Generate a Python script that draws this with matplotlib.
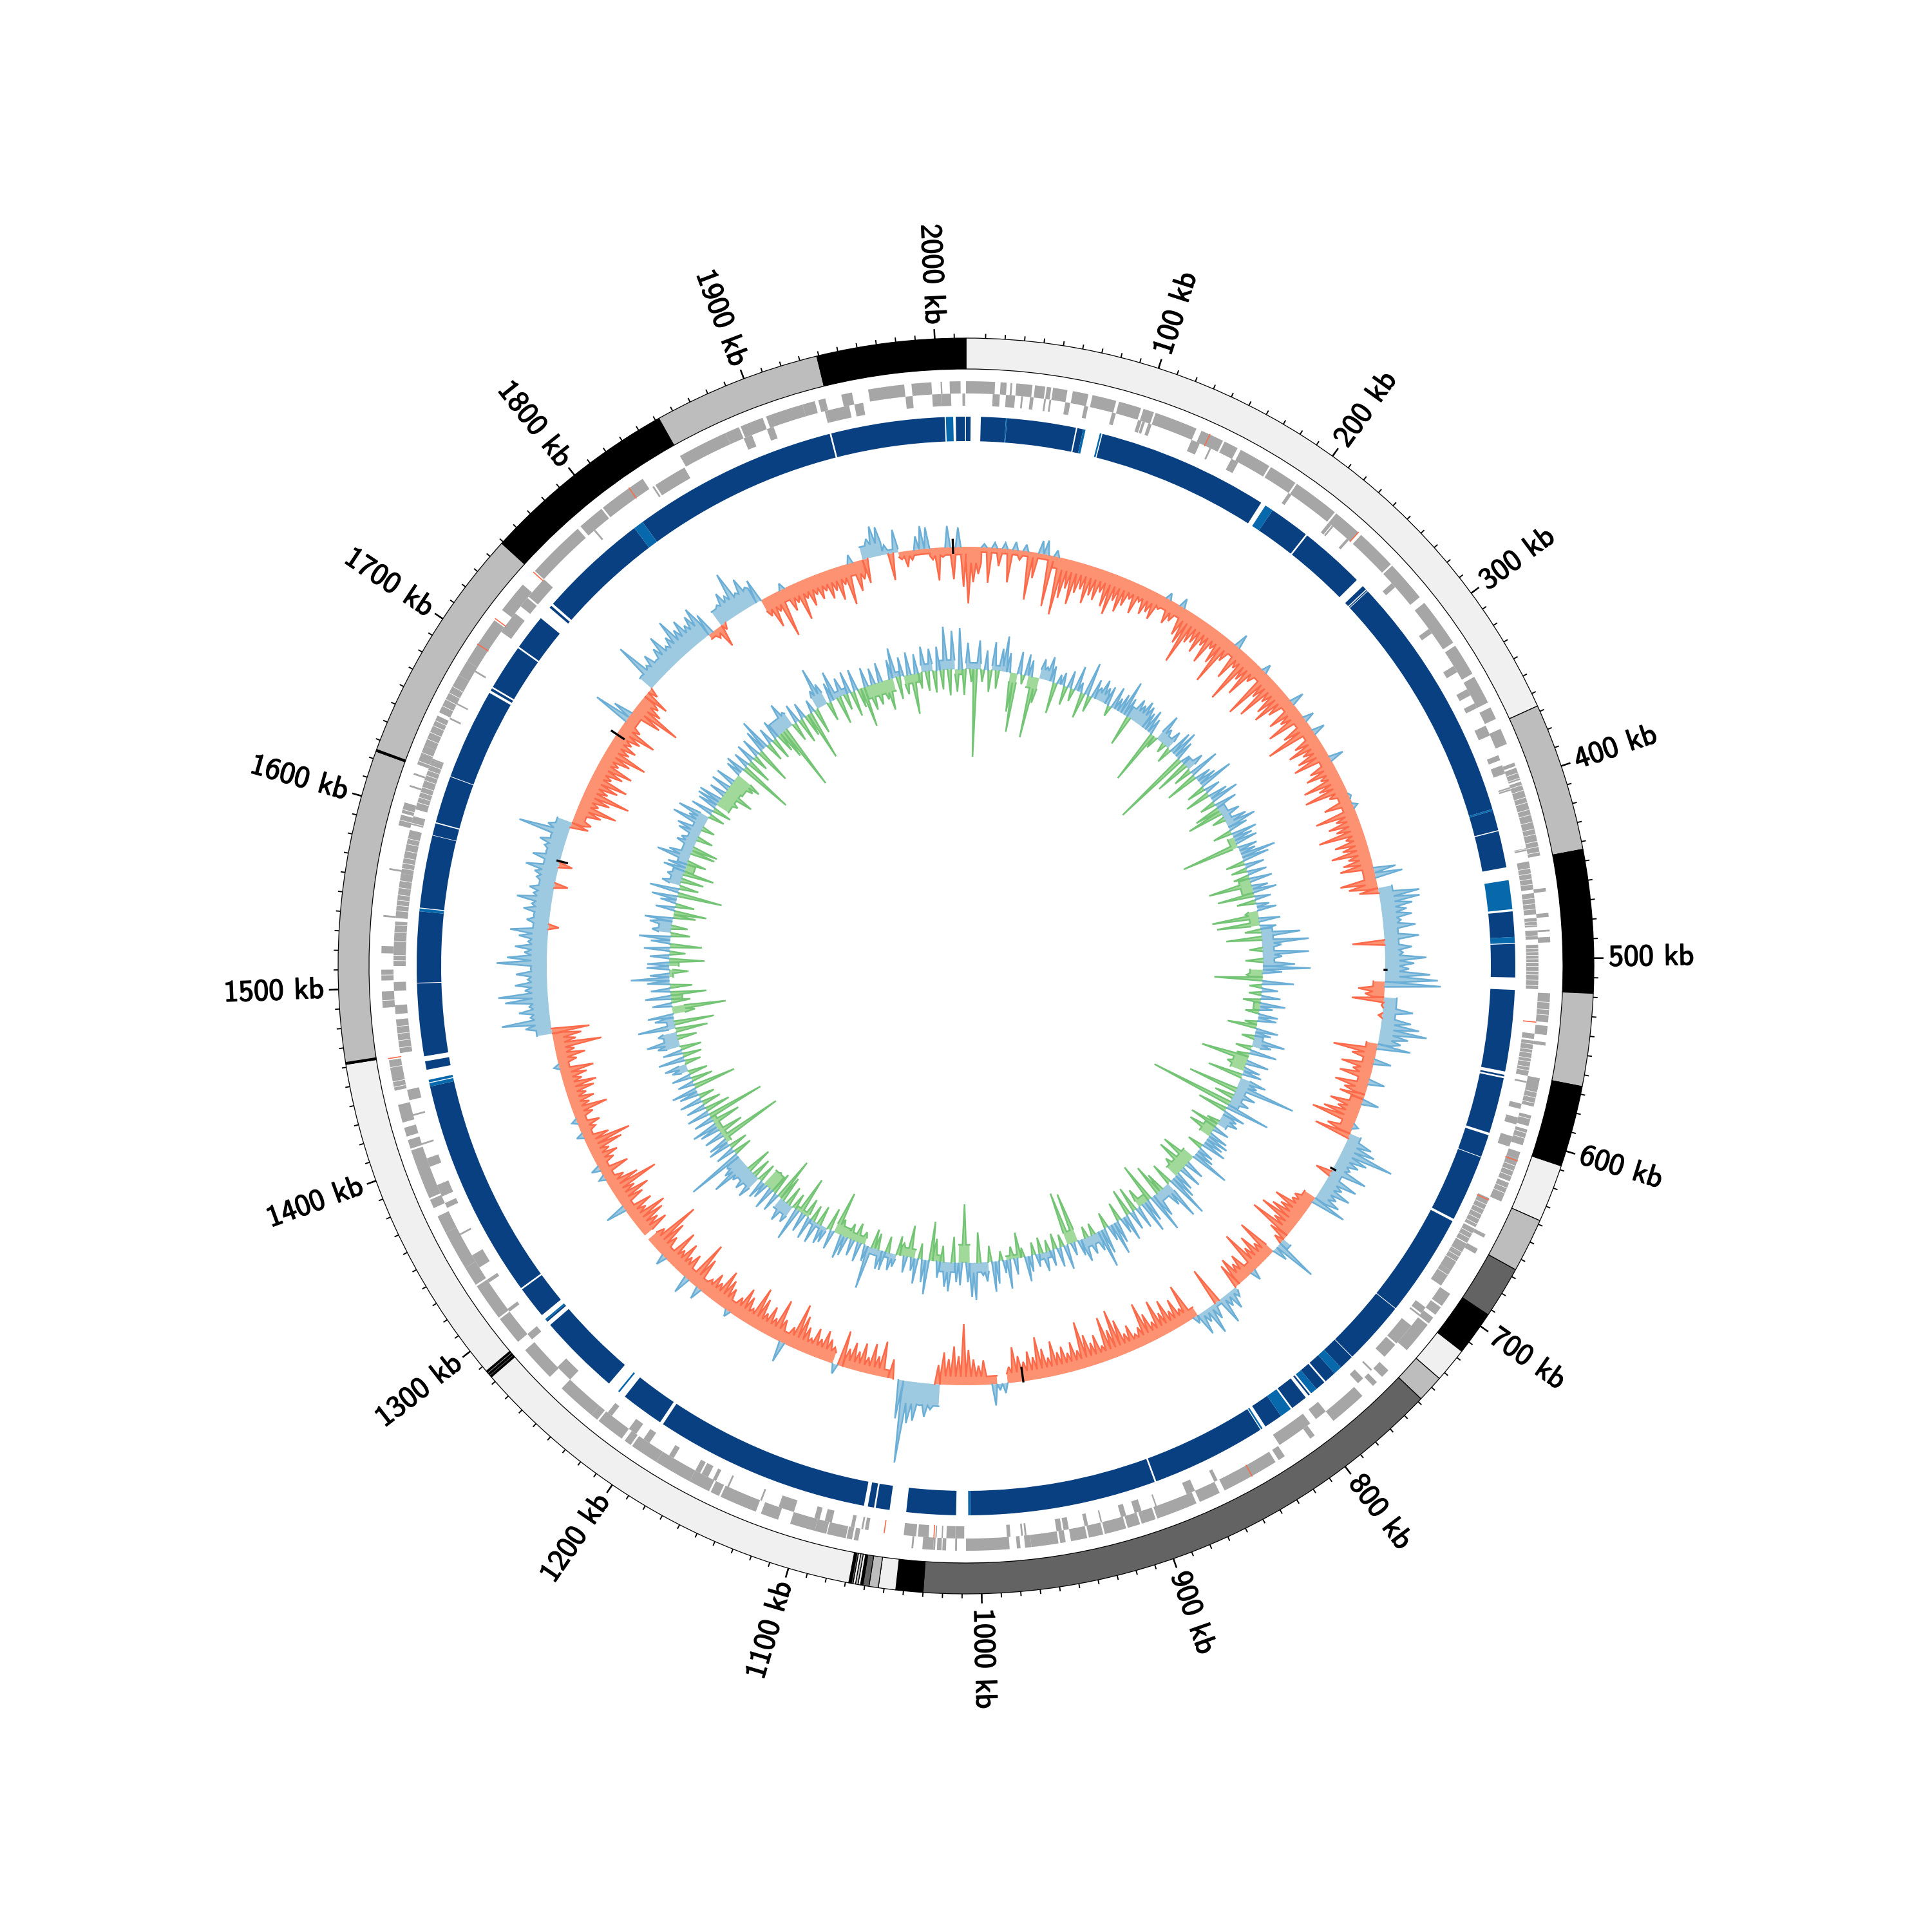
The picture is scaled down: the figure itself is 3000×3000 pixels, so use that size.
import matplotlib
matplotlib.use("Agg")
import matplotlib.patheffects as pe
import matplotlib.pyplot as plt
import numpy as np

genome_kb = 2016
bin_kb = 4

LIGHT = "#f0f0f0"
GREY = "#bdbdbd"
DARK = "#636363"
BLACK = "#000000"

# ideogram bands (kb)
band_edges = [0, 367, 444, 518, 566, 608, 638, 666, 693, 716, 734, 748, 1030, 1044, 1053, 1057.8,
              1061, 1062.2, 1063.5, 1064.8, 1066.1, 1067, 1068.3, 1283, 1283.8, 1284.6, 1285.4,
              1286.2, 1287, 1461.5, 1462.5, 1624, 1625, 1749, 1852, 1939, 2016]
band_colors = [LIGHT, GREY, BLACK, GREY, BLACK, LIGHT, GREY, DARK, BLACK, LIGHT, GREY, DARK, BLACK, LIGHT, GREY,
               DARK, BLACK, LIGHT, GREY, LIGHT, DARK, BLACK, LIGHT, BLACK, DARK, BLACK, "#969696",
               BLACK, LIGHT, BLACK, GREY, BLACK, GREY, BLACK, GREY, BLACK]

# contig ring: dark segments and lighter segments (kb)
dark_segments = [(0, 2.7), (8.7, 23.4), (24, 64.7), (65.5, 69), (80.6, 182), (190, 214), (215, 254), (259, 261.6),
                 (262.2, 262.8), (263.2, 411), (412, 423.8), (424.4, 446), (472, 487), (491, 510.7), (518, 566),
                 (568, 569), (570, 603), (604.5, 617.8), (618.2, 657.5), (659, 719.8), (720.2, 757.8),
                 (758.2, 767), (772, 779), (780, 786), (791, 792), (794, 804), (812, 823), (826.5, 894.5),
                 (895.5, 1005.5), (1013.8, 1043), (1052.8, 1061), (1062, 1065.7), (1068, 1195.5), (1197.5, 1223),
                 (1235, 1283.5), (1286, 1287), (1291, 1310), (1311, 1441), (1451, 1456), (1459, 1501.8),
                 (1502.2, 1544), (1546.2, 1589), (1589.3, 1596.3), (1597, 1624.8), (1625.2, 1679), (1680.5, 1682),
                 (1683, 1710), (1711, 1732), (1740, 1741.5), (1743, 1808), (1814, 1935.5), (1936.5, 2003.5),
                 (2010, 2015.5)]
light_segments = [(23.4, 24), (69, 70.4), (79, 80), (185, 190), (411, 412), (453.6, 470.7), (487, 490.5), (767, 772),
                  (786, 790), (805, 812), (825, 826), (1005.5, 1006.7), (1227, 1228), (1287, 1288), (1441, 1443),
                  (1443.5, 1445), (1544, 1545.7), (1808, 1814), (2004.2, 2008.5)]

# genes by strand (kb)
genes_outer = [(0, 16), (19, 22.4), (24.5, 25.5), (27.7, 36.6), (38, 43.7), (44.5, 47), (48, 56), (59, 67.7), (70, 83.4),
               (85, 97.6), (99, 105), (106, 130), (133, 146), (147, 155), (157, 175), (176, 192), (193, 219),
               (220, 236), (238, 261), (262, 285), (289, 316), (318, 336), (338, 354), (357, 364), (370, 379),
               (390, 392), (393, 400), (401, 443), (461, 463), (474.8, 477), (484, 485), (488, 491), (519, 535),
               (537, 542), (546, 548), (566, 572), (571.5, 582), (587, 593), (595, 604), (608, 612), (612, 625),
               (626, 637), (657, 659), (666, 669), (695, 703), (704, 709), (711, 715), (716, 734), (749, 754),
               (758, 761), (769, 790), (803, 806), (823, 827), (829, 861), (864, 876), (878, 901), (902, 910),
               (911, 918), (919, 931), (932, 940), (941, 950), (953, 956), (957, 972), (972, 975.5), (978, 980),
               (984, 1008), (1013, 1014), (1019, 1021), (1021.5, 1024), (1025, 1026), (1026, 1032), (1037, 1038),
               (1067.5, 1070), (1071, 1074), (1074.5, 1085), (1085.5, 1092), (1092, 1106), (1113, 1123),
               (1126, 1147), (1148, 1153), (1154, 1166), (1166, 1187), (1187, 1203), (1204, 1208), (1210, 1226),
               (1227, 1231), (1231, 1253), (1262, 1282), (1288, 1304), (1305, 1326), (1327, 1338), (1338, 1360),
               (1360, 1370), (1375, 1380), (1381, 1403), (1402, 1409), (1410, 1415), (1417, 1422), (1425, 1435),
               (1443, 1452), (1451, 1460), (1489, 1498), (1504, 1510), (1519, 1523), (1539, 1540), (1565, 1566),
               (1590, 1596), (1597, 1603), (1612, 1613), (1619, 1620), (1625, 1636), (1636, 1654), (1656, 1679),
               (1679, 1688), (1688, 1715), (1722, 1734), (1733, 1740), (1750, 1783), (1785, 1800), (1801, 1828),
               (1852, 1880), (1880, 1888), (1889, 1902), (1904, 1925), (1925, 1932), (1934, 1938), (1947, 1953),
               (1962, 1982), (1986, 1997), (2002, 2002.8), (2007, 2013)]
genes_inner = [(15, 19), (22.4, 27.6), (31, 32), (36, 38), (44, 45), (47, 48), (56, 58.8), (66.8, 69), (82.8, 85), (98, 100),
               (100.5, 102), (104, 106), (130, 135), (141, 142), (154.7, 159), (192, 194), (220, 222), (222.5, 223.5),
               (233.5, 235), (269, 272), (302, 305), (327, 331), (342, 346), (351, 354), (365, 371), (383, 386), (389, 394),
               (402, 404), (437.5, 439), (445, 461), (463, 475), (477, 482), (484, 489), (492, 517), (542, 545), (546, 566),
               (569, 570), (582, 585), (590, 594), (601, 607), (638, 656), (657, 666), (666.5, 673), (673, 684), (684, 694),
               (709, 713), (714, 715), (722, 735), (736, 745), (755, 756), (762, 766), (790, 797), (801, 822), (862, 864),
               (876, 881), (899, 899.8), (908, 912), (917, 920), (931, 931.8), (939, 941), (950, 953), (954, 957),
               (974, 975), (976, 977), (983, 985), (1009, 1014), (1014, 1019), (1021, 1021.7), (1024.5, 1025.2),
               (1029, 1035), (1036, 1043), (1063, 1065), (1066, 1067), (1071, 1073), (1084, 1088), (1091, 1094), (1106, 1115),
               (1125, 1126), (1145, 1146), (1153, 1155), (1158, 1162), (1163, 1166), (1180, 1183), (1196, 1200), (1205, 1210),
               (1222, 1225), (1253, 1263), (1284, 1288), (1304, 1306), (1324, 1326), (1334, 1342), (1355, 1356), (1372, 1375),
               (1379, 1386), (1397, 1402), (1410, 1411), (1427, 1428), (1436, 1442), (1463, 1482), (1485, 1490), (1498, 1503),
               (1512, 1537), (1539, 1564), (1564, 1589), (1592, 1597), (1601, 1630), (1630, 1631), (1655, 1656), (1664, 1665),
               (1685, 1686), (1712, 1718), (1717, 1725), (1730, 1736), (1737, 1750), (1789, 1790), (1830, 1831), (1832, 1851),
               (1888, 1893), (1902, 1906), (1936, 1937), (1937, 1950), (1953, 1958), (1982, 1986), (1997, 2002), (2002, 2007.6),
               (2014, 2015.5)]
gene_marks_kb = [138, 236, 535.5, 613, 639, 844, 1026, 1054, 1461, 1699, 1716, 1749, 1819]
gene_marks_outer = [True, True, False, True, False, True, False, False, True, True, True, True, True]
# white lines between neighbouring genes where they are easy to see
gene_gap_kb = [396, 399, 403, 406, 410, 413, 417, 420, 424, 428, 431, 435, 438, 441,
               449, 452, 455, 458, 466, 469, 472, 479, 481, 487, 494, 496, 498, 500, 502, 504, 507, 509, 512, 515,
               524, 528, 531, 548, 551, 553, 556, 558, 561, 563, 574, 577, 580, 589, 597, 600,
               616, 619, 622, 629, 632, 642, 645, 648, 651, 654, 660, 663, 672, 675, 678, 687,
               1445, 1448, 1456, 1466, 1470, 1474, 1478, 1493, 1507, 1515, 1518, 1526, 1531, 1535, 1543, 1546,
               1549, 1552, 1556, 1560, 1567, 1570, 1573, 1577, 1581, 1584, 1593, 1599, 1605, 1608, 1611, 1614,
               1618, 1621, 1624, 1627, 1632, 1640, 1644, 1648, 1651, 1660, 1664, 1668, 1672]

# outer signal, one value per 4 kb, 25 values per 100 kb
outer_signal = [
    -88, -55, -42, 5, -55, 8, -28, 9, -52, 12, -15, 10, -75, -40, 20, 22, -80, 10, -90, -62, -45, -68, -48, -40, -60,
    -45, -50, -35, -55, -65, -40, -55, -42, -28, -48, -25, -42, -35, -43, -22, 10, -38, -30, 14, -45, -55, -84, -45, -40, -52,
    -35, -60, -30, -50, -80, -35, 22, -55, -30, -85, -40, -62, -30, 13, -82, -40, -72, -35, -50, -61, -40, 21, -50, -35, -62,
    16, -45, -78, 19, -40, -55, -35, -48, -59, 22, -40, -50, -30, -62, -40, -67, -30, 3, -45, 7, -65, -35, -50, -40, -71,
    -30, -50, -40, -60, -35, -45, -52, 34, 43, -57, -45, -30, 63, 62, 49, 39, 46, 28, 50, 17, 54, -50, 42, 28, 64,
    45, 37, 70, 82, 87, -41, -30, -50, -3, 47, -6, 46, 60, 73, 45, 35, 52, -68, -37, 27, -50, -30, -49, 25, -52,
    -35, -40, 26, -50, -35, -55, -71, 8, -40, -57, 41, 50, 84, 45, 35, 25, 57, -25, 50, 30, 48, 30, 40, 55, -30,
    -30, -55, -40, -50, -64, -35, -70, -30, -15, 68, 23, -64, -30, -50, -35, -68, 16, -40, -30, -45, -39, 15, 30, 20, 44,
    -59, 25, 45, 20, 36, 12, -60, -25, -45, -30, -52, -35, -59, -28, -45, -66, -30, -22, -40, -30, -55, -74, -45, -68, -25,
    -45, -35, -50, -73, -30, -45, -30, -42, -35, -54, -30, -45, -65, -35, -45, -30, -40, -55, -25, 15, 10, 33, -12, -38, -30,
    -40, -55, -95, -45, -60, -40, -50, -30, 40, 52, 35, 60, 65, 128, 60, 0, -30, 0, -55, -30, -48, -25, -45, -30, -42,
    -30, -56, 15, -25, -35, -46, -30, -44, -25, -40, -55, -71, -30, 32, -35, -64, -30, -45, -30, -50, -64, -25, -40, -50, -30,
    10, -35, -45, -56, -30, -40, -25, 19, -50, -73, 27, -40, -30, -48, -30, -57, 16, -35, -55, -84, -30, 0, -45, -35, -50,
    -59, -30, -45, 32, -40, -55, -35, -78, -50, -30, 9, -46, 13, -30, -40, -30, -55, -72, -40, 10, -25, -35, 8, -30, -56,
    -30, -40, -30, -45, -51, -30, -40, -53, 8, -30, -45, -30, -74, -35, -45, -59, 40, 76, 30, 47, 30, 67, 77, 35, 50,
    30, 48, 25, 78, 62, 35, 50, 30, 45, 59, -16, 35, 25, 42, 30, 55, 30, 38, -21, 30, 35, 51, -21, 44, 25,
    30, 40, 25, 79, 35, -28, -30, -15, -40, -62, -30, -45, -74, -35, -48, -60, -30, -45, -57, -30, -45, -68, -35, -42, -30,
    -40, -61, -30, 58, 30, -50, -78, -40, -30, -40, -15, 25, 77, 30, 42, 25, 40, 55, 30, 40, 63, 40, 50, 35, 45,
    53, 35, -15, -35, -10, 30, 45, 35, 69, 30, 49, 30, 37, -30, -52, -30, -75, 10, -40, -30, -61, -30, -45, -30, -40,
    -30, -45, -35, -52, -30, -64, 13, -47, -30, -38, 30, 48, 45, 15, -42, 36, -12, -25, -15, 21, 36, 33, -18, -51, -15,
    33, -50, 30, -62,
]

# solid part under the spikes of the outer signal: (start kb, end kb, height)
outer_body = [(0, 12, -25), (12, 70, -8), (70, 445, -18), (445, 517, 22), (517, 530, -18), (530, 566, 20), (566, 606, -18),
              (610, 637, -20), (637, 693, 18), (693, 716, -20), (716, 730, -16), (733, 737, 14), (745, 782, -16),
              (785, 822, 6), (822, 975, -15), (983, 1029, -13), (1030, 1058, 34), (1069, 1105, -12), (1112, 1285, -18),
              (1287, 1462, -16), (1462, 1625, 24), (1625, 1738, -18), (1745, 1805, 24), (1805, 1815, -8), (1815, 1849, 26),
              (1851, 1938, -20), (1938, 1953, 20), (1953, 1965, 6), (1965, 1990, -8), (1990, 2016, -12)]

# inner signal, one value per 4 kb, 25 values per 100 kb
inner_signal = [
    41, -20, -136, 45, -19, 30, -34, 44, -28, 35, 55, 30, -61, -92, 35, -15, 33, 25, -96, -40, 31, 20, 38, 25, -49,
    15, 20, -30, 27, -20, 39, 15, -41, 52, -26, 30, 20, 35, 25, 30, -17, 35, 20, 30, 55, 30, -48, 36, 30, 40,
    35, 28, 36, 25, -86, -20, 45, 25, -15, 30, -25, 38, 44, 30, -123, 15, -54, 30, -30, 48, -52, 25, 30, 55, -30,
    25, -40, 30, 45, -25, 35, -40, -56, 30, -20, 35, 47, 30, -30, 40, 30, 35, -91, 30, 25, 55, 42, -30, 30, -25,
    30, -25, 35, -68, 25, 37, -58, 25, -30, 20, 30, -20, -73, 33, -67, 25, -25, 61, -55, 73, 30, -20, 72, 30, -27,
    50, 74, 30, -25, -75, 49, -20, 25, -20, 30, -28, 39, 20, -22, 30, 29, -20, -46, 35, 25, -20, 50, 30, -25, 42,
    -20, -75, 35, -30, 25, 30, -55, 42, 30, 94, -78, 35, -30, 30, -131, 70, -47, 35, 25, 30, -20, -45, 25, -41, 30,
    35, 30, 39, -25, 25, 30, 61, -20, -52, 30, -51, 35, -30, 30, 40, 68, -35, 62, 35, -30, -49, 40, 62, -63, 35,
    50, -30, 35, -40, 30, -43, 41, 25, -30, 35, 51, 25, -25, 40, 60, 30, -18, 30, -18, 37, 25, -79, 20, -84, 38,
    -20, 30, -25, 25, -18, 30, -25, 20, -20, 25, 39, -15, -40, 25, -20, 45, 20, -15, 35, 47, -25, 30, 20, -47, 58,
    53, 30, -91, 35, 30, -40, 45, 38, -25, 25, -35, -61, 53, 35, -25, 39, 20, -50, 25, -20, -30, 20, 27, -25, 30,
    30, -25, -30, 67, 25, -20, 30, -30, 25, -25, 30, 37, -25, -67, 30, -35, 25, 30, -30, 35, -25, 35, -30, 30, -60,
    52, -25, 30, -30, 35, -40, -68, 30, -35, 35, -30, 25, 30, -30, 40, -30, 35, -40, 30, 60, 35, 25, 89, -30, 30,
    -30, 35, 30, -99, 30, -40, 30, 40, -45, 30, -91, 35, -40, 30, -30, 35, -25, 30, 40, -67, 25, -34, 30, -30, 25,
    35, -25, 41, -30, 30, -33, 35, 51, -30, 30, -50, 59, -62, 30, 40, -35, -84, 30, -30, 40, -56, 30, -35, 35, 60,
    30, -30, 35, 34, -55, 30, -25, 40, -50, 30, 49, -30, 30, -25, 35, 44, -35, -51, 30, -30, 25, 40, -70, 46, -30,
    30, -35, 25, -48, 35, 30, -30, 52, 35, -38, -40, 30, 25, -25, 35, 40, -20, 54, 30, 51, -25, 35, -30, 30, 35,
    36, -30, 25, -48, 30, -25, 30, -35, -43, 25, 30, -86, 25, -40, 30, -25, 30, -57, 35, 50, -30, 25, -35, 30, -30,
    -45, -103, 44, 25, -30, 30, -40, 25, -35, -78, 20, -40, 30, 64, 35, -30, 30, 46, -43, 30, -25, 35, -40, 34, -30,
    -63, 30, -40, 25, -35, 30, -30, -48, 30, 47, -35, 30, -30, 35, -63, 30, -25, 40, -30, 35, -34, 37, -30, 67, -40,
    60, -35, 64, -40,
]

inner_body = [(0, 2, -14), (2, 16, 10), (30, 45, 8), (50, 58, -15), (70, 80, -18), (82, 93, 15), (143, 157, 12), (185, 205, 18),
              (225, 240, 15), (263, 272, 14), (325, 350, 12), (362, 372, -10), (410, 425, -18), (445, 460, -15), (465, 505, 18),
              (510, 518, -20), (545, 552, -10), (580, 592, 14), (605, 622, -22), (627, 660, 16), (672, 683, 15), (690, 700, -18),
              (730, 755, -20), (770, 790, 15), (795, 810, -12), (860, 880, 15), (885, 895, -20), (915, 930, 10), (950, 965, -6),
              (985, 1005, 15), (1006, 1018, -28), (1020, 1035, 15), (1035, 1045, -10), (1065, 1080, -14), (1085, 1095, 8),
              (1100, 1115, 10), (1120, 1140, -12), (1140, 1155, -15), (1165, 1185, 6), (1190, 1205, -6), (1210, 1225, 18),
              (1235, 1250, -28), (1255, 1290, 22), (1310, 1340, -8), (1395, 1405, 12), (1425, 1440, 22), (1445, 1455, 12),
              (1460, 1470, -20), (1475, 1480, -18), (1500, 1510, -6), (1512, 1518, -15), (1550, 1562, 20), (1600, 1615, 18),
              (1615, 1625, -14), (1625, 1680, 16), (1695, 1720, -22), (1720, 1735, -25), (1795, 1815, 22), (1848, 1862, 20),
              (1868, 1885, 10), (1905, 1935, -20), (1935, 1945, 8), (1948, 1965, -14), (1970, 1980, 12), (1990, 2003, 15),
              (2005, 2012, -8)]

# short black spikes on the outer signal
black_spike_kb = [507, 666, 964, 1593, 1700, 2006]
black_spike_inner = [-1, -3, -21, -11, -13, -9]
black_spike_outer = [2, 4, 0, 4, 9, 11]


def kb_to_theta(kb):
    return np.deg2rad(np.asarray(kb, dtype=float) * 360.0 / genome_kb)


def draw_arcs(ax, segments, bottom, top, color):
    starts = kb_to_theta([s[0] for s in segments])
    ends = kb_to_theta([s[1] for s in segments])
    ax.bar((starts + ends) / 2, top - bottom, width=ends - starts, bottom=bottom, color=color, linewidth=0)


def draw_signal(ax, values, body_regions, base, pos_fill, pos_line, neg_fill, neg_line, lw=0.6):
    values = np.asarray(values, dtype=float)
    left = np.arange(len(values)) * bin_kb
    mid = left + bin_kb / 2
    theta = kb_to_theta(np.column_stack([left, mid, left + bin_kb]).ravel())
    for sign, fill, line in ((-1, neg_fill, neg_line), (1, pos_fill, pos_line)):
        body = np.zeros(len(values))
        for start, end, height in body_regions:
            if height * sign > 0:
                body[(mid >= start) & (mid < end)] = abs(height)
        tip = np.maximum(np.clip(values * sign, 0, None), body)
        r = base + sign * np.column_stack([body, tip, body]).ravel()
        keep = np.repeat(tip > 0, 3)
        ax.fill_between(theta, base, r, where=keep, color=fill, linewidth=0, zorder=2)
        ax.plot(theta, np.where(keep, r, np.nan), color=line, lw=lw, zorder=3, solid_joinstyle="miter")


fig = plt.figure(figsize=(10, 10), dpi=300)
ax = fig.add_axes([1 / 6, 1 / 6, 2 / 3, 2 / 3], polar=True)
ax.set_theta_zero_location("N")
ax.set_theta_direction(-1)
ax.set_ylim(0, 1000)
ax.set_axis_off()

# ideogram
edges = np.array(band_edges, dtype=float)
starts = kb_to_theta(edges[:-1])
ends = kb_to_theta(edges[1:])
ax.bar((starts + ends) / 2, 48, width=ends - starts, bottom=927, color=band_colors, edgecolor="black", linewidth=0.3)

# ticks and labels
minor = np.arange(10, genome_kb, 10)
major = np.arange(100, genome_kb, 100)
ax.vlines(kb_to_theta(minor), 975, 982, color="black", lw=0.45)
ax.vlines(kb_to_theta(major), 975, 990, color="black", lw=0.6)
for kb in major:
    deg = kb * 360.0 / genome_kb
    if deg < 180:
        rot, ha = 90 - deg, "left"
    else:
        rot, ha = 270 - deg, "right"
    ax.text(kb_to_theta(kb), 998, f"{kb} kb", rotation=rot, rotation_mode="anchor", ha=ha, va="center",
            fontsize=11.2, family="cmss10", clip_on=False,
            path_effects=[pe.withStroke(linewidth=0.35, foreground="black")])

# genes
draw_arcs(ax, genes_outer, 889, 908, "#a6a6a6")
draw_arcs(ax, genes_inner, 870, 889, "#a6a6a6")
ax.vlines(kb_to_theta(gene_gap_kb), 870, 908, color="white", lw=0.2)
for kb, is_outer in zip(gene_marks_kb, gene_marks_outer):
    low = 889 if is_outer else 870
    ax.plot([kb_to_theta(kb)] * 2, [low, low + 19], color="#fb6a4a", lw=0.4)

# contigs
draw_arcs(ax, dark_segments, 815, 853, "#084081")
draw_arcs(ax, light_segments, 815, 853, "#0868ac")

# signal tracks
draw_signal(ax, outer_signal, outer_body, 651, "#9ecae1", "#6baed6", "#fc9272", "#fb6a4a")
draw_signal(ax, inner_signal, inner_body, 461, "#9ecae1", "#6baed6", "#a1d99b", "#74c476")
for kb, low, high in zip(black_spike_kb, black_spike_inner, black_spike_outer):
    ax.plot([kb_to_theta(kb)] * 2, [651 + low, 651 + high], color="black", lw=0.8, zorder=4)

fig.savefig("out.png", dpi=300, facecolor="white")
